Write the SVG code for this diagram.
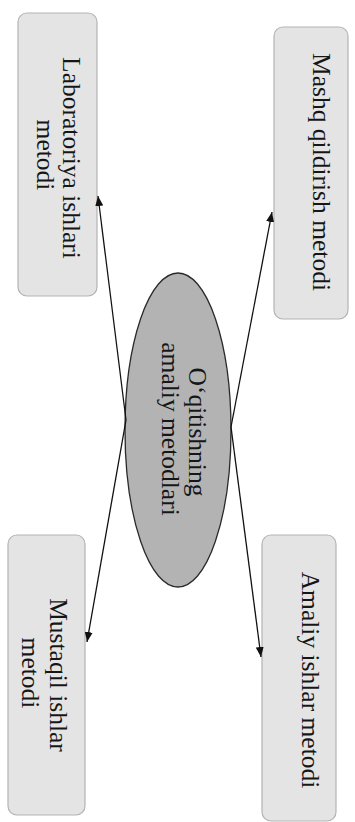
<svg xmlns="http://www.w3.org/2000/svg" width="355" height="822" viewBox="0 0 355 822">
<defs>
<marker id="ah" viewBox="0 0 10 8" refX="10" refY="4" markerWidth="10" markerHeight="8" markerUnits="userSpaceOnUse" orient="auto">
<path d="M0,0 L10,4 L0,8 Z" fill="#111"/>
</marker>
</defs>
<style>
.box{fill:#e4e4e4;stroke:#b4b4b4;stroke-width:1.2}
.t{font-family:"Liberation Serif","Times New Roman",serif;font-size:25.5px;fill:#161616;text-anchor:middle}
.c{stroke:#111;stroke-width:1.3;fill:none;marker-end:url(#ah)}
</style>
<rect width="355" height="822" fill="#ffffff"/>
<g id="center">
<ellipse cx="178" cy="430" rx="53" ry="157" fill="#b3b3b3" stroke="#2a2a2a" stroke-width="1.3"/>
<text class="t" x="189" y="432" transform="rotate(90 189 432)">O‘qitishning</text>
<text class="t" x="162" y="429" transform="rotate(90 162 429)">amaliy metodlari</text>
</g>
<g id="laboratoriya">
<rect class="box" x="18" y="13" width="79" height="283" rx="9"/>
<text class="t" x="63" y="158" transform="rotate(90 63 158)">Laboratoriya ishlari</text>
<text class="t" x="37" y="155" transform="rotate(90 37 155)">metodi</text>
</g>
<g id="mashq">
<rect class="box" x="274" y="27" width="74" height="292" rx="9"/>
<text class="t" x="313" y="172" transform="rotate(90 313 172)">Mashq qildirish metodi</text>
</g>
<g id="mustaqil">
<rect class="box" x="8" y="535" width="77" height="280" rx="9"/>
<text class="t" x="50" y="675" transform="rotate(90 50 675)">Mustaqil ishlar</text>
<text class="t" x="22" y="673" transform="rotate(90 22 673)">metodi</text>
</g>
<g id="amaliy">
<rect class="box" x="262" y="535" width="74" height="286" rx="9"/>
<text class="t" x="302" y="680" transform="rotate(90 302 680)">Amaliy ishlar metodi</text>
</g>
<g id="connectors">
<line class="c" x1="126" y1="420" x2="98" y2="196"/>
<line class="c" x1="231" y1="427" x2="272" y2="212"/>
<line class="c" x1="126" y1="420" x2="87" y2="642"/>
<line class="c" x1="231" y1="427" x2="261" y2="657"/>
</g>
</svg>
